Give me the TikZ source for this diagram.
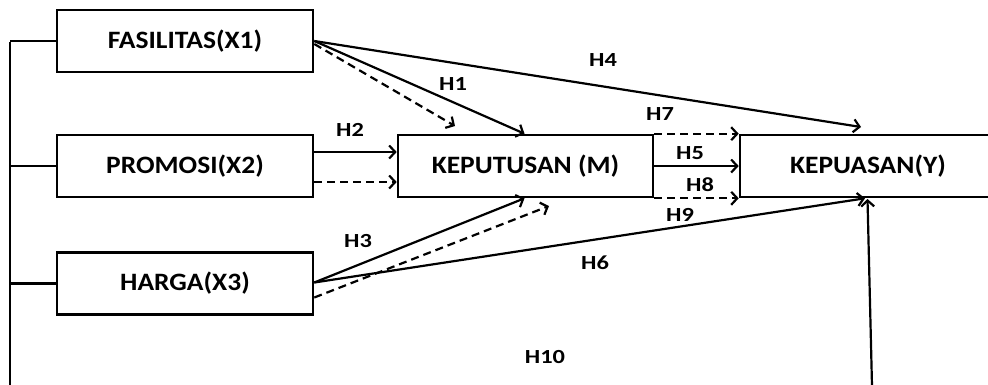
\documentclass[tikz,border=0pt]{standalone}
\usepackage{fontspec}
\setmainfont{Carlito}
\usetikzlibrary{arrows.meta}
\newcommand{\bx}[1]{\scalebox{1.1}[1]{#1}}
\newcommand{\lb}[1]{\scalebox{1.22}[1]{#1}}
\begin{document}
\begin{tikzpicture}[x=1pt,y=-1pt,
  box/.style={draw,line width=2.6pt,minimum height=62pt,inner sep=0pt,font=\fontsize{25}{29}\selectfont\bfseries},
  lab/.style={font=\fontsize{20}{23}\selectfont\bfseries,inner sep=0pt},
  conn/.style={line width=2.2pt},
  arr/.style={conn,-{Straight Barb[length=6pt,width=13pt,line width=2.2pt]}},
  darr/.style={arr,dash pattern=on 8pt off 5pt}]
\useasboundingbox (0,0) rectangle (988,384);
\clip (0,0) rectangle (988,384);
\node[box,minimum width=256pt] (fas) at (185,41) {\bx{FASILITAS(X1)}};
\node[box,minimum width=256pt] (pro) at (185,166) {\bx{PROMOSI(X2)}};
\node[box,minimum width=256pt] (har) at (185,283.5) {\bx{HARGA(X3)}};
\node[box,minimum width=255pt] (kep) at (525.5,166) {\bx{KEPUTUSAN (M)}};
\node[box,minimum width=256pt] (kpu) at (868,166) {\bx{KEPUASAN(Y)}};
% left bus
\coordinate (lt) at (10,42);
\coordinate (lb) at (10,386);
\draw[conn] (lt) -- (lb);
\draw[conn] (fas.west) -- (fas.west -| lt);
\draw[conn] (pro.west) -- (pro.west -| lt);
\draw[conn] (har.west) -- (har.west -| lt);
% free ends
\coordinate (h1d) at (455,126);
\coordinate (h4t) at (861,127);
\coordinate (h3d) at (549,206);
\coordinate (h10s) at (872,386);
\coordinate (h10t) at (867.5,199);
% arrows
\draw[arr] (fas.east) -- ([xshift=-1pt]kep.north);
\draw[darr] ([yshift=-3pt]fas.east) -- (h1d);
\draw[arr] (fas.east) -- (h4t);
\draw[arr] ([yshift=14pt]pro.east) -- ([yshift=14pt]kep.west);
\draw[darr] ([yshift=-16pt]pro.east) -- ([yshift=-16pt]kep.west);
\draw[arr] ([yshift=1pt]har.east) -- ([xshift=-1pt]kep.south);
\draw[darr] ([yshift=-14pt]har.east) -- (h3d);
\draw[arr] ([yshift=1pt]har.east) -- ([xshift=-3pt]kpu.south);
\draw[darr] (kep.north east) -- (kpu.north west);
\draw[arr] (kep.east) -- (kpu.west);
\draw[darr] (kep.south east) -- (kpu.south west);
\draw[arr] (h10s) -- (h10t);
% labels
\node[lab] (l1) at (453,84) {\lb{H1}};
\node[lab] (l4) at (603,60) {\lb{H4}};
\node[lab] (l2) at (350,130) {\lb{H2}};
\node[lab] (l7) at (660,114) {\lb{H7}};
\node[lab] (l5) at (690,153) {\lb{H5}};
\node[lab] (l8) at (700,185) {\lb{H8}};
\node[lab] (l9) at (680,215) {\lb{H9}};
\node[lab] (l3) at (358,241) {\lb{H3}};
\node[lab] (l6) at (595,263) {\lb{H6}};
\node[lab] (l10) at (545,357) {\lb{H10}};
\end{tikzpicture}
\end{document}
